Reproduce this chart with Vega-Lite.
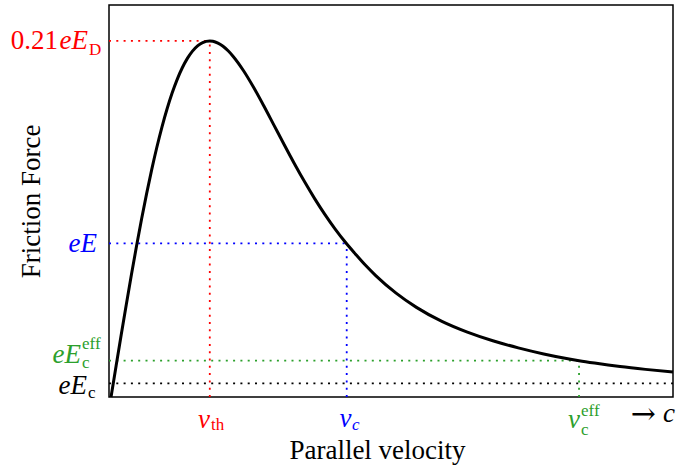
{
  "$schema": "https://vega.github.io/schema/vega-lite/v6.json",
  "width": 564,
  "height": 392,
  "autosize": {"type": "none"},
  "padding": {"left": 109, "top": 5, "right": 3, "bottom": 68},
  "background": "white",
  "config": {
    "view": {"stroke": "black", "strokeWidth": 1.5},
    "font": "Liberation Serif"
  },
  "datasets": {
    "curve": [
      {"x": 0.02, "y": 0.0}, {"x": 0.07, "y": 0.01878}, {"x": 0.12, "y": 0.03739}, {"x": 0.17, "y": 0.05566},
      {"x": 0.22, "y": 0.07345}, {"x": 0.27, "y": 0.09058}, {"x": 0.32, "y": 0.10694}, {"x": 0.37, "y": 0.12238},
      {"x": 0.42, "y": 0.1368}, {"x": 0.47, "y": 0.1501}, {"x": 0.52, "y": 0.16222}, {"x": 0.57, "y": 0.17308},
      {"x": 0.62, "y": 0.18265}, {"x": 0.67, "y": 0.19092}, {"x": 0.72, "y": 0.19787}, {"x": 0.77, "y": 0.20352},
      {"x": 0.82, "y": 0.2079}, {"x": 0.87, "y": 0.21106}, {"x": 0.92, "y": 0.21305}, {"x": 0.99, "y": 0.21399},
      {"x": 1.02, "y": 0.2138}, {"x": 1.07, "y": 0.2127}, {"x": 1.12, "y": 0.21078}, {"x": 1.17, "y": 0.20807},
      {"x": 1.22, "y": 0.20469}, {"x": 1.32, "y": 0.19625}, {"x": 1.42, "y": 0.18617}, {"x": 1.52, "y": 0.17505},
      {"x": 1.62, "y": 0.16343}, {"x": 1.72, "y": 0.15176}, {"x": 1.82, "y": 0.14036}, {"x": 1.92, "y": 0.12947},
      {"x": 2.02, "y": 0.11925}, {"x": 2.12, "y": 0.10978}, {"x": 2.22, "y": 0.10109}, {"x": 2.32, "y": 0.09317},
      {"x": 2.42, "y": 0.08601}, {"x": 2.52, "y": 0.07914}, {"x": 2.62, "y": 0.07296}, {"x": 2.82, "y": 0.06242},
      {"x": 3.02, "y": 0.05387}, {"x": 3.27, "y": 0.04544}, {"x": 3.52, "y": 0.03898}, {"x": 3.77, "y": 0.03378},
      {"x": 4.02, "y": 0.02953}, {"x": 4.27, "y": 0.02588}, {"x": 4.52, "y": 0.02284}, {"x": 4.617, "y": 0.02182},
      {"x": 4.77, "y": 0.02039}, {"x": 5.02, "y": 0.0183}, {"x": 5.27, "y": 0.0166}, {"x": 5.54, "y": 0.01501}
    ],
    "guides": [
      {"key": "vth", "x": 0.0, "x2": 0.99, "y": 0.214, "y2": 0.214},
      {"key": "vth", "x": 0.99, "x2": 0.99, "y": 0.0, "y2": 0.214},
      {"key": "vc", "x": 0.0, "x2": 2.335, "y": 0.0923, "y2": 0.0923},
      {"key": "vc", "x": 2.335, "x2": 2.335, "y": 0.0, "y2": 0.0923},
      {"key": "eff", "x": 0.0, "x2": 4.617, "y": 0.02182, "y2": 0.02182},
      {"key": "eff", "x": 4.617, "x2": 4.617, "y": 0.0, "y2": 0.02182},
      {"key": "base", "x": 0.0, "x2": 5.54, "y": 0.00824, "y2": 0.00824}
    ],
    "labels": [
      {"key": "vth", "role": "rm", "text": "0.21", "x": -0.501, "y": 0.20889},
      {"key": "vth", "role": "it", "text": "eE", "x": -0.2063, "y": 0.20889},
      {"key": "vth", "role": "rms", "text": "D", "x": -0.1965, "y": 0.20558},
      {"key": "vc", "role": "it", "text": "eE", "x": -0.1179, "y": 0.08716},
      {"key": "eff", "role": "it", "text": "eE", "x": -0.275, "y": 0.02044},
      {"key": "eff", "role": "rms", "text": "eff", "x": -0.2652, "y": 0.02885},
      {"key": "eff", "role": "rms", "text": "c", "x": -0.2652, "y": 0.0177},
      {"key": "base", "role": "it", "text": "eE", "x": -0.2161, "y": 0.0018},
      {"key": "base", "role": "rms", "text": "c", "x": -0.2063, "y": -0.0009},
      {"key": "vth", "role": "it", "text": "v", "x": 0.992, "y": -0.01863},
      {"key": "vth", "role": "rms", "text": "th", "x": 1.002, "y": -0.01984},
      {"key": "vc", "role": "it", "text": "v", "x": 2.382, "y": -0.01803},
      {"key": "vc", "role": "its", "text": "c", "x": 2.387, "y": -0.01984},
      {"key": "eff", "role": "it", "text": "v", "x": 4.627, "y": -0.01863},
      {"key": "eff", "role": "rms", "text": "eff", "x": 4.637, "y": -0.01142},
      {"key": "eff", "role": "rms", "text": "c", "x": 4.637, "y": -0.02284},
      {"key": "base", "role": "arrow", "text": "→", "x": 5.373, "y": -0.01623},
      {"key": "base", "role": "it", "text": "c", "x": 5.56, "y": -0.01503}
    ]
  },
  "layer": [
    {
      "data": {"name": "guides"},
      "mark": {"type": "rule", "strokeDash": [2, 5.3], "strokeWidth": 1.8, "strokeCap": "butt"},
      "encoding": {
        "x": {"field": "x", "type": "quantitative", "scale": {"domain": [0, 5.54], "nice": false, "zero": false},
              "axis": {"title": "Parallel velocity", "labels": false, "ticks": false, "domain": false, "grid": false,
                       "titleFont": "Liberation Serif", "titleFontSize": 27, "titleFontWeight": "normal", "titleColor": "black",
                       "titleBaseline": "alphabetic", "titlePadding": 61, "titleX": 268}},
        "x2": {"field": "x2"},
        "y": {"field": "y", "type": "quantitative", "scale": {"domain": [0, 0.2356], "nice": false, "zero": false},
              "axis": {"title": "Friction Force", "labels": false, "ticks": false, "domain": false, "grid": false,
                       "titleFont": "Liberation Serif", "titleFontSize": 27, "titleFontWeight": "normal", "titleColor": "black",
                       "titleBaseline": "alphabetic", "titlePadding": 70}},
        "y2": {"field": "y2"},
        "color": {"field": "key", "type": "nominal", "legend": null,
                  "scale": {"domain": ["vth", "vc", "eff", "base"], "range": ["#ff0000", "#0000ff", "#2ca02c", "#000000"]}}
      }
    },
    {
      "data": {"name": "curve"},
      "mark": {"type": "line", "color": "black", "strokeWidth": 3, "interpolate": "monotone"},
      "encoding": {
        "x": {"field": "x", "type": "quantitative"},
        "y": {"field": "y", "type": "quantitative"}
      }
    },
    {
      "data": {"name": "labels"},
      "transform": [{"filter": "datum.role === 'rm'"}],
      "mark": {"type": "text", "align": "right", "baseline": "alphabetic", "fontSize": 27, "font": "Liberation Serif"},
      "encoding": {
        "x": {"field": "x", "type": "quantitative"},
        "y": {"field": "y", "type": "quantitative"},
        "text": {"field": "text"},
        "color": {"field": "key", "type": "nominal", "legend": null}
      }
    },
    {
      "data": {"name": "labels"},
      "transform": [{"filter": "datum.role === 'arrow'"}],
      "mark": {"type": "text", "align": "right", "baseline": "alphabetic", "fontSize": 30, "font": "DejaVu Serif"},
      "encoding": {
        "x": {"field": "x", "type": "quantitative"},
        "y": {"field": "y", "type": "quantitative"},
        "text": {"field": "text"},
        "color": {"field": "key", "type": "nominal", "legend": null}
      }
    },
    {
      "data": {"name": "labels"},
      "transform": [{"filter": "datum.role === 'it'"}],
      "mark": {"type": "text", "align": "right", "baseline": "alphabetic", "fontSize": 27, "fontStyle": "italic", "font": "Liberation Serif"},
      "encoding": {
        "x": {"field": "x", "type": "quantitative"},
        "y": {"field": "y", "type": "quantitative"},
        "text": {"field": "text"},
        "color": {"field": "key", "type": "nominal", "legend": null}
      }
    },
    {
      "data": {"name": "labels"},
      "transform": [{"filter": "datum.role === 'rms'"}],
      "mark": {"type": "text", "align": "left", "baseline": "alphabetic", "fontSize": 17, "font": "Liberation Serif"},
      "encoding": {
        "x": {"field": "x", "type": "quantitative"},
        "y": {"field": "y", "type": "quantitative"},
        "text": {"field": "text"},
        "color": {"field": "key", "type": "nominal", "legend": null}
      }
    },
    {
      "data": {"name": "labels"},
      "transform": [{"filter": "datum.role === 'its'"}],
      "mark": {"type": "text", "align": "left", "baseline": "alphabetic", "fontSize": 17, "fontStyle": "italic", "font": "Liberation Serif"},
      "encoding": {
        "x": {"field": "x", "type": "quantitative"},
        "y": {"field": "y", "type": "quantitative"},
        "text": {"field": "text"},
        "color": {"field": "key", "type": "nominal", "legend": null}
      }
    }
  ]
}
